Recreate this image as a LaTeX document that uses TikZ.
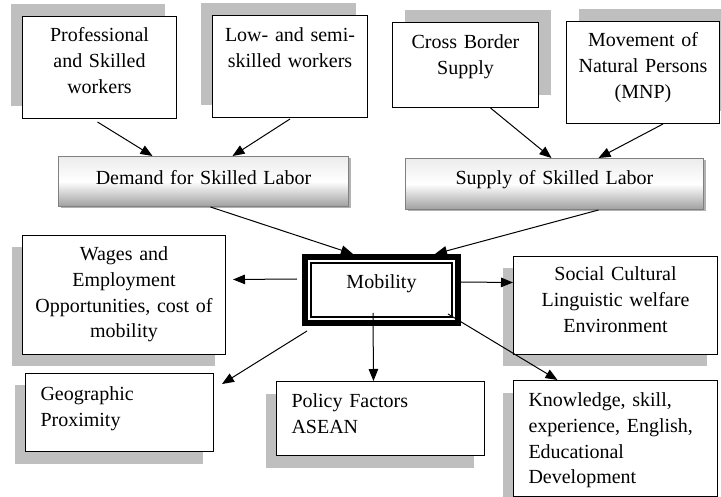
\documentclass[tikz,border=0pt]{standalone}
\usepackage{fontspec}
\setmainfont{Liberation Serif}
\usetikzlibrary{arrows.meta,shadows}
\begin{document}
\begin{tikzpicture}[x=1pt, y=1pt,
    bx/.style={draw, fill=white, line width=1pt, anchor=north west,
      inner xsep=5pt, inner ysep=0pt, align=center, font=\fs},
    lbx/.style={bx, inner xsep=15pt, align=left},
    shul/.style={general shadow={fill=lgray, shadow xshift=-12pt, shadow yshift=12pt}},
    shur/.style={general shadow={fill=lgray, shadow xshift=12pt, shadow yshift=12pt}},
    shll/.style={general shadow={fill=lgray, shadow xshift=-11pt, shadow yshift=-12pt}},
    lab/.style={bx, draw=gray, top color=gray!15, bottom color=gray!75, middle color=white,
      general shadow={fill=gray!60, shadow xshift=2pt, shadow yshift=-2pt}},
    arr/.style={-{Triangle[length=12pt,width=9.5pt]}, line width=1pt}]
  \def\fs{\fontsize{20}{25.8}\selectfont}
  \definecolor{lgray}{gray}{0.75}
  \useasboundingbox (0,0) rectangle (721,-497);
  \node[bx, shul, text width=144pt, text height=25pt, text depth=77pt] (prof) at (22,-16) {Professional\\and Skilled\\workers};
  \node[bx, shul, text width=145pt, text height=26pt, text depth=76pt] (low) at (212,-15) {Low- and semi-\\skilled workers};
  \node[bx, shur, text width=136pt, text height=26pt, text depth=59pt] (cross) at (392,-22) {Cross Border\\Supply};
  \node[bx, shur, text width=143pt, text height=25pt, text depth=77pt] (mnp) at (566,-21) {Movement of\\Natural Persons\\(MNP)};
  \node[lab, text width=280pt, text height=28pt, text depth=22pt] (dem) at (58,-156) {Demand for Skilled Labor};
  \node[lab, text width=288pt, text height=26pt, text depth=25pt] (sup) at (405,-158) {Supply of Skilled Labor};
  \node[bx, shll, text width=193pt, text height=25pt, text depth=94pt] (wag) at (22,-235) {Wages and\\Employment\\Opportunities, cost of\\mobility};
  \node[lbx, shll, text width=158pt, text height=27pt, text depth=51pt] (geo) at (25,-373) {Geographic\\Proximity};
  \node[lbx, shll, text width=178pt, text height=26pt, text depth=48pt] (pol) at (276,-381) {Policy Factors\\ASEAN};
  \node[bx, shll, text width=194pt, text height=24pt, text depth=74pt] (soc) at (513,-256) {Social Cultural\\Linguistic welfare\\Environment};
  \node[lbx, shll, text width=174pt, text height=26pt, text depth=90pt] (know) at (513,-380) {Knowledge, skill,\\experience, English,\\Educational\\Development};
  \node[draw, line width=6pt, inner sep=0pt, text width=153pt, align=center,
    text height=32pt, text depth=34pt, font=\fs, anchor=base] (mob) at (381.5,-289) {Mobility};
  \draw[line width=1.5pt] ([xshift=9pt,yshift=-9pt]mob.north west) rectangle ([xshift=-9pt,yshift=9pt]mob.south east);
  \draw[arr] ([xshift=-2pt,yshift=-3pt]prof.south) -- ([xshift=-51pt]dem.north);
  \draw[arr] ([yshift=-1pt]low.south) -- ([xshift=29pt]dem.north);
  \draw[arr] ([xshift=25pt]cross.south) -- ([xshift=-3pt]sup.north);
  \draw[arr] ([xshift=20pt]mnp.south) -- ([xshift=44pt]sup.north);
  \draw[arr] ([xshift=7pt]dem.south) -- ([xshift=-28.5pt]mob.north);
  \draw[arr] ([xshift=44pt]sup.south) -- ([xshift=53.5pt]mob.north);
  \draw[arr] ([xshift=-5pt,yshift=11pt]mob.west) -- ([xshift=7pt,yshift=15.5pt]wag.east);
  \draw[arr] ([xshift=5pt,yshift=-5pt]mob.south west) -- ([xshift=8pt,yshift=-11pt]geo.north east);
  \draw[arr] ([xshift=-8.5pt,yshift=13pt]mob.south) -- ([xshift=-7pt]pol.north);
  \draw[arr] ([yshift=8pt]mob.east) -- ([yshift=23pt]soc.west);
  \draw[arr] ([xshift=-13pt,yshift=12pt]mob.south east) -- ([xshift=-58pt]know.north);
\end{tikzpicture}
\end{document}
